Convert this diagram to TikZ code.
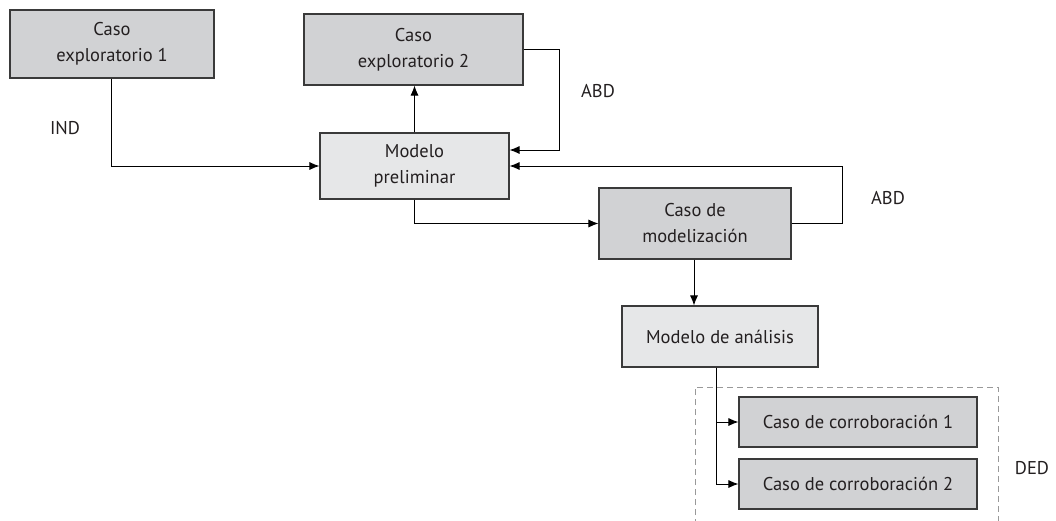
\documentclass[tikz,border=0pt]{standalone}
\usepackage{fontspec}
\setmainfont{PT Sans}
\usetikzlibrary{arrows.meta,calc}
\definecolor{darkfill}{HTML}{D1D2D4}
\definecolor{lightfill}{HTML}{E6E7E8}
\definecolor{edge}{HTML}{3A3A3A}
\definecolor{txt}{HTML}{231F20}
\begin{document}
\begin{tikzpicture}[x=1pt,y=-1pt,
  every node/.style={text=txt,font=\fontsize{18.5}{26}\selectfont},
  boxdark/.style={draw=edge,line width=1.1pt,fill=darkfill,inner sep=0pt,align=center},
  boxlight/.style={draw=edge,line width=1.1pt,fill=lightfill,inner sep=0pt,align=center},
  conn/.style={draw=black,line width=0.9pt},
  arr/.style={conn,-{Latex[length=10pt,width=8pt]}},
  lbl/.style={inner sep=0pt}
]
\useasboundingbox (0,0) rectangle (1056,520);
\node[boxdark,minimum width=204pt,minimum height=68pt] (b1) at (112,44) {Caso\\exploratorio 1};
\node[boxdark,minimum width=219pt,minimum height=71pt] (b2) at (413.5,49.5) {Caso\\exploratorio 2};
\node[boxlight,minimum width=189pt,minimum height=66pt] (pre) at (414.5,166) {Modelo\\preliminar};
\node[boxdark,minimum width=192pt,minimum height=71pt] (mod) at (695,223.5) {Caso de\\modelización};
\node[boxlight,minimum width=196pt,minimum height=61pt] (ana) at (720,336.5) {Modelo de análisis};
\node[boxdark,minimum width=238pt,minimum height=50pt] (c1) at (858,422) {Caso de corroboración 1};
\node[boxdark,minimum width=238pt,minimum height=50pt] (c2) at (858,484) {Caso de corroboración 2};

\node[lbl] (ind) at (65,128) {IND};
\node[lbl] (abd1) at (598,91) {ABD};
\node[lbl] (abd2) at (888,198) {ABD};
\node[lbl] (ded) at (1032,468) {DED};

\draw[dashed,draw=gray!80,line width=0.9pt,dash pattern=on 6pt off 4pt] (695,525) -- (695,387) -- (998,387) -- (998,525);

\draw[arr] ([xshift=-1pt]b1.south) |- (pre.west);
\draw[arr] (pre.north) -- (pre.north |- b2.south);
\draw[arr] (b2.east) -- (559,49.5) |- ([yshift=16pt]pre.east);
\draw[arr] (mod.east) -- (842,223.5) |- (pre.east);
\draw[arr] (pre.south) |- (mod.west);
\draw[arr] ([xshift=-1pt]mod.south) -- ([xshift=-1pt]mod.south |- ana.north);
\coordinate (j) at ([xshift=-4pt]ana.south);
\draw[arr] (j) |- (c1.west);
\draw[arr] (j) |- (c2.west);
\end{tikzpicture}
\end{document}
